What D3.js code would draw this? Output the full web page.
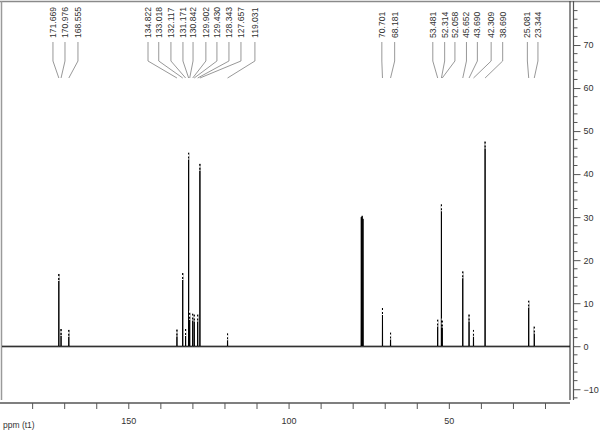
<!DOCTYPE html>
<html>
<head>
<meta charset="utf-8">
<script src="https://cdn.jsdelivr.net/npm/d3@7"></script>
<style>
  html, body { margin: 0; padding: 0; background: #fff; }
  svg { display: block; }
  text { font-family: "Liberation Sans", Arial, sans-serif; }
</style>
</head>
<body>
<svg id="chart" width="600" height="430"></svg>
<script>
// ---- data ----
const peakPpm = [171.669, 170.976, 168.555, 134.822, 133.018, 132.117, 131.171, 130.842,
                 129.902, 129.430, 128.343, 127.657, 119.031, 70.701, 68.181, 53.481,
                 52.314, 52.058, 45.652, 43.690, 42.309, 38.690, 25.081, 23.344];
const peakHeight = [16.8, 4.0, 3.8, 3.9, 17.0, 4.0, 45.0, 7.8,
                    7.6, 7.4, 7.4, 42.4, 3.0, 8.9, 3.2, 6.2,
                    33.0, 6.0, 17.4, 7.4, 3.8, 47.6, 10.6, 4.6];
const peakLabels = ["171.669", "170.976", "168.555", "134.822", "133.018", "132.117", "131.171", "130.842",
                    "129.902", "129.430", "128.343", "127.657", "119.031", "70.701", "68.181", "53.481",
                    "52.314", "52.058", "45.652", "43.690", "42.309", "38.690", "25.081", "23.344"];
// horizontal position of each peak label, in ppm (as placed in the reference)
const labelPpm = [173.5, 169.75, 165.7, 143.85, 140.5, 136.7, 132.95, 129.8,
                  125.8, 122.35, 118.6, 114.85, 110.5, 70.9, 66.9, 55.0,
                  51.3, 48.1, 44.5, 41.1, 36.8, 33.2, 25.5, 22.2];
// unlabeled solvent (CDCl3) triplet
const solventPpm = [77.30, 77.04, 76.78];
const solventHeight = [30.0, 30.3, 29.6];

const xTicks = [180, 170, 160, 150, 140, 130, 120, 110, 100, 90, 80, 70, 60, 50, 40, 30, 20];
const xTickLabels = [150, 100, 50];
const yMajorTicks = [70, 60, 50, 40, 30, 20, 10, 0, -10];
const yMinorTicks = [78, 76, 74, 72, 68, 66, 64, 62, 58, 56, 54, 52, 48, 46, 44, 42, 38, 36, 34, 32,
                     28, 26, 24, 22, 18, 16, 14, 12, 8, 6, 4, 2, -2, -4, -6, -8, -12];

// ---- layout ----
const svg = d3.select("#chart");
const pLeft = 2, pRight = 570, pTop = 2, pBottom = 400;
const x = d3.scaleLinear().domain([189.4, 12.2]).range([pLeft, pRight]);
const y = d3.scaleLinear().domain([80, -12.5]).range([pTop, pBottom]);

// frame
svg.append("line").attr("x1", 0).attr("x2", 600).attr("y1", 1.5).attr("y2", 1.5)
  .attr("stroke", "#8a8a8a").attr("stroke-width", 1.5);
svg.append("line").attr("x1", 1.5).attr("x2", 1.5).attr("y1", 1).attr("y2", pBottom)
  .attr("stroke", "#9a9a9a").attr("stroke-width", 1.5);
svg.append("line").attr("x1", pRight).attr("x2", pRight).attr("y1", 1).attr("y2", pBottom)
  .attr("stroke", "#444").attr("stroke-width", 1.2);

// spectrum path built from peak list
const allPeaks = peakPpm.map((p, i) => ({ppm: p, h: peakHeight[i], w: 0.04}))
  .concat(solventPpm.map((p, i) => ({ppm: p, h: solventHeight[i], w: 0.08})))
  .sort((a, b) => b.ppm - a.ppm);
const pts = [[x.domain()[0], 0]];
allPeaks.forEach(pk => {
  pts.push([pk.ppm + pk.w, 0]);
  pts.push([pk.ppm, pk.h]);
  pts.push([pk.ppm - pk.w, 0]);
});
pts.push([x.domain()[1], 0]);
const line = d3.line().x(d => x(d[0])).y(d => y(d[1]));
svg.append("path").attr("d", line(pts)).attr("fill", "none")
  .attr("stroke", "#000").attr("stroke-width", 1).attr("stroke-linejoin", "bevel");
// baseline thickness
svg.append("line").attr("x1", pLeft).attr("x2", pRight).attr("y1", y(0) + 0.6).attr("y2", y(0) + 0.6)
  .attr("stroke", "#222").attr("stroke-width", 0.9);

// peak-pick markers at the top of picked peaks
svg.append("g").selectAll("line").data(peakPpm).join("line")
  .attr("x1", d => x(d)).attr("x2", d => x(d))
  .attr("y1", (d, i) => y(peakHeight[i]) - 2)
  .attr("y2", (d, i) => y(peakHeight[i]) + 7)
  .attr("stroke", "#fff").attr("stroke-width", 1.4).attr("stroke-dasharray", "2,2");

// peak labels with leader lines
const textY = 38, lineTop = 42, knee = 61, lineBottom = 78;
const lab = svg.append("g");
peakPpm.forEach((p, i) => {
  const lx = x(labelPpm[i]), px = x(p);
  lab.append("polyline")
    .attr("points", `${lx},${lineTop} ${lx},${knee} ${px},${lineBottom}`)
    .attr("fill", "none").attr("stroke", "#8c8c8c").attr("stroke-width", 0.9);
  lab.append("text")
    .attr("transform", `translate(${lx},${textY}) rotate(-90)`)
    .attr("dy", "0.35em")
    .attr("font-size", 8.6).attr("fill", "#333")
    .text(peakLabels[i]);
});

// bottom axis
const xAxis = d3.axisBottom(x).tickValues(xTicks).tickSize(6).tickPadding(9)
  .tickFormat(d => xTickLabels.includes(d) ? d : "");
const gx = svg.append("g").attr("transform", `translate(0,403)`).call(xAxis);
gx.select(".domain").remove();
gx.append("line").attr("x1", 0).attr("x2", pRight).attr("y1", 0).attr("y2", 0)
  .attr("stroke", "#555").attr("stroke-width", 1.3);
gx.selectAll(".tick line").attr("stroke", "#555");
gx.selectAll(".tick text").attr("font-size", 9).attr("fill", "#333")
  .attr("font-family", "Liberation Sans, Arial, sans-serif");

// right axis
const ax = 573.5;
const yAxis = d3.axisRight(y).tickValues(yMajorTicks).tickSize(7).tickPadding(3);
const gy = svg.append("g").attr("transform", `translate(${ax},0)`).call(yAxis);
gy.select(".domain").remove();
gy.append("line").attr("x1", 0).attr("x2", 0).attr("y1", 1).attr("y2", pBottom)
  .attr("stroke", "#555").attr("stroke-width", 1.2);
gy.selectAll(".tick line").attr("stroke", "#555");
gy.selectAll(".tick text").attr("font-size", 9).attr("fill", "#333")
  .attr("font-family", "Liberation Sans, Arial, sans-serif");
svg.append("g").selectAll("line").data(yMinorTicks).join("line")
  .attr("x1", ax).attr("x2", ax + 4)
  .attr("y1", d => y(d)).attr("y2", d => y(d))
  .attr("stroke", "#555");

// axis title
svg.append("text").attr("x", 3).attr("y", 428).attr("font-size", 8.5).attr("fill", "#333")
  .text("ppm (t1)");
</script>
</body>
</html>
